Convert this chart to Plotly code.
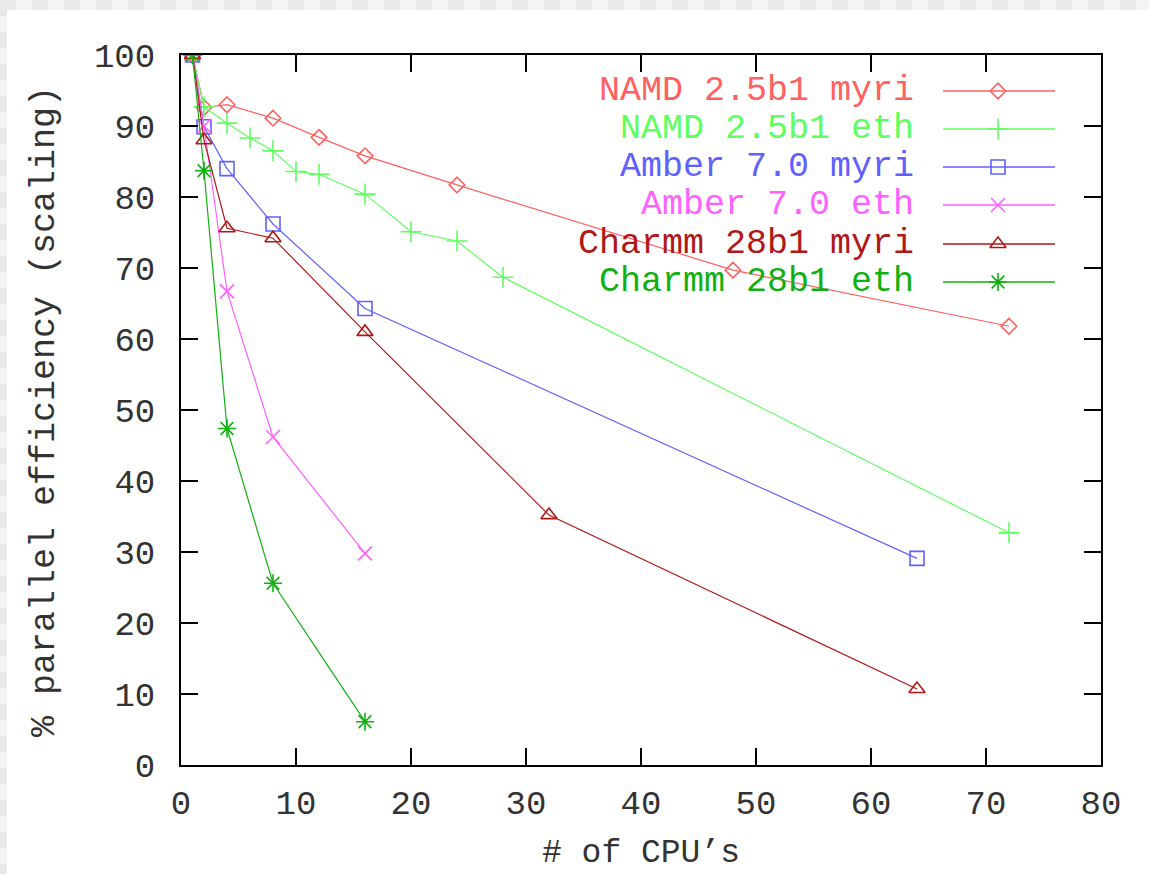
import plotly.graph_objects as go

# ---- data ----
names = ["NAMD 2.5b1 myri", "NAMD 2.5b1 eth", "Amber 7.0 myri",
         "Amber 7.0 eth", "Charmm 28b1 myri", "Charmm 28b1 eth"]

namd_myri_x = [1, 2, 4, 8, 12, 16, 24, 48, 72]
namd_myri_y = [100, 92.6, 93.0, 91.1, 88.4, 85.8, 81.7, 69.7, 61.8]

namd_eth_x = [1, 2, 4, 6, 8, 10, 12, 16, 20, 24, 28, 72]
namd_eth_y = [100, 92.7, 90.4, 88.3, 86.5, 83.6, 83.2, 80.4, 75.1, 73.8, 68.7, 32.7]

amber_myri_x = [1, 2, 4, 8, 16, 64]
amber_myri_y = [100, 89.9, 84.0, 76.2, 64.3, 29.1]

amber_eth_x = [1, 2, 4, 8, 16]
amber_eth_y = [100, 90.0, 66.7, 46.2, 29.8]

charmm_myri_x = [1, 2, 4, 8, 16, 32, 64]
charmm_myri_y = [100, 88.0, 75.6, 74.2, 61.0, 35.2, 10.7]

charmm_eth_x = [1, 2, 4, 8, 16]
charmm_eth_y = [100, 83.7, 47.4, 25.6, 6.1]

x_ticks = [0, 10, 20, 30, 40, 50, 60, 70, 80]
y_ticks = [0, 10, 20, 30, 40, 50, 60, 70, 80, 90, 100]

# ---- styling ----
colors = ["#ff6060", "#60ff60", "#6060ff", "#ff60ff", "#b01818", "#10b010"]
symbols = ["diamond-open", "cross-thin-open", "square-open",
           "x-thin-open", "triangle-up-open", "asterisk-open"]
sizes = [12, 15, 14, 14, 14, 15]
FONT = "Liberation Mono"
TXT = "#333333"

W, H = 1149, 874
L, R, T, B = 181, 48, 55, 109
PW, PH = W - L - R, H - T - B


def px_x(p):
    return (p - L) / PW


def px_y(p):
    return (H - B - p) / PH


series = [
    (namd_myri_x, namd_myri_y),
    (namd_eth_x, namd_eth_y),
    (amber_myri_x, amber_myri_y),
    (amber_eth_x, amber_eth_y),
    (charmm_myri_x, charmm_myri_y),
    (charmm_eth_x, charmm_eth_y),
]

fig = go.Figure()
for i, (xs, ys) in enumerate(series):
    fig.add_trace(go.Scatter(
        x=xs, y=ys, mode="lines+markers", name=names[i],
        line=dict(color=colors[i], width=1.2),
        marker=dict(symbol=symbols[i], size=sizes[i],
                    color=colors[i], line=dict(color=colors[i], width=1.6)),
        showlegend=False,
    ))

# ---- gnuplot-style key (text on the left, sample on the right) ----
key_rows = [91, 129, 167, 205, 244, 282]
annotations = []
for i, name in enumerate(names):
    yp = px_y(key_rows[i])
    fig.add_trace(go.Scatter(
        x=[px_x(943), px_x(1055)], y=[yp, yp], mode="lines",
        line=dict(color=colors[i], width=1.6),
        xaxis="x2", yaxis="y2", showlegend=False, hoverinfo="skip"))
    fig.add_trace(go.Scatter(
        x=[px_x(998)], y=[yp], mode="markers",
        marker=dict(symbol=symbols[i], size=sizes[i], color=colors[i],
                    line=dict(color=colors[i], width=1.6)),
        xaxis="x2", yaxis="y2", showlegend=False, hoverinfo="skip"))
    annotations.append(dict(
        text=name, xref="paper", yref="paper", x=px_x(916), y=yp,
        xanchor="right", yanchor="middle", showarrow=False,
        font=dict(family=FONT, size=35, color=colors[i])))

annotations.append(dict(
    text="# of CPU\u2019s", xref="paper", yref="paper", x=0.5, y=px_y(853),
    xanchor="center", yanchor="middle", showarrow=False,
    font=dict(family=FONT, size=33, color=TXT)))
annotations.append(dict(
    text="% parallel efficiency (scaling)", xref="paper", yref="paper",
    x=px_x(45), y=px_y(412), textangle=-90,
    xanchor="center", yanchor="middle", showarrow=False,
    font=dict(family=FONT, size=35, color=TXT)))

# ---- checkered page border (top and left strips) ----
shapes = [dict(type="rect", xref="paper", yref="paper",
               x0=px_x(7), x1=px_x(W), y0=px_y(H), y1=px_y(10),
               fillcolor="white", line=dict(width=0), layer="below")]
blk = 16
for k in range(0, W // blk + 1):
    if k % 2 == 0:
        shapes.append(dict(type="rect", xref="paper", yref="paper",
                           x0=px_x(k * blk), x1=px_x(k * blk + blk),
                           y0=px_y(10), y1=px_y(0),
                           fillcolor="#e9e9e9", line=dict(width=0), layer="below"))
for k in range(0, H // blk + 1):
    if k % 2 == 0:
        shapes.append(dict(type="rect", xref="paper", yref="paper",
                           x0=px_x(0), x1=px_x(7),
                           y0=px_y(k * blk + blk), y1=px_y(k * blk),
                           fillcolor="#e9e9e9", line=dict(width=0), layer="below"))

axis_common = dict(
    showline=True, linecolor="black", linewidth=2, mirror="ticks",
    ticks="inside", ticklen=17, tickwidth=1.6, tickcolor="black",
    showgrid=False, zeroline=False,
    tickfont=dict(family=FONT, size=34, color=TXT),
)

fig.update_layout(
    width=W, height=H,
    margin=dict(l=L, r=R, t=T, b=B),
    paper_bgcolor="#f4f4f4", plot_bgcolor="white",
    xaxis=dict(range=[0, 80], tickvals=x_ticks, ticklabelstandoff=6,
               **axis_common),
    yaxis=dict(range=[0, 100], tickvals=y_ticks, ticklabelstandoff=17,
               **axis_common),
    xaxis2=dict(range=[0, 1], overlaying="x", visible=False, fixedrange=True),
    yaxis2=dict(range=[0, 1], overlaying="y", visible=False, fixedrange=True),
    annotations=annotations,
    shapes=shapes,
    showlegend=False,
)

fig.write_html(
    "out.html",
    config={"displayModeBar": False},
    post_script="document.body.style.margin='0';document.body.style.overflow='hidden';",
)
